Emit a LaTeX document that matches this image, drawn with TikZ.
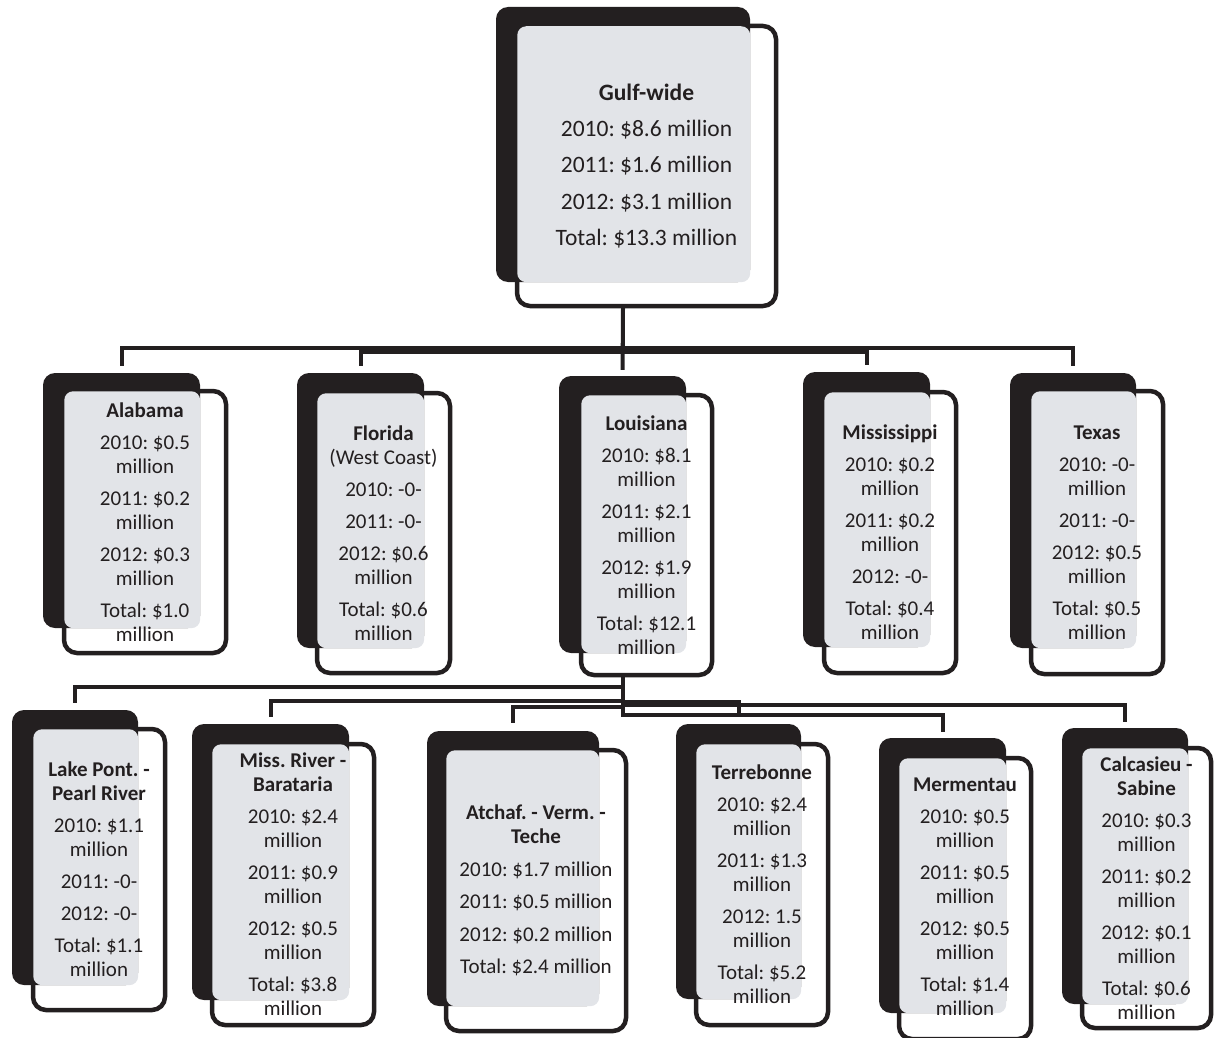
\documentclass[tikz,border=0pt]{standalone}
\usepackage{fontspec}
\setmainfont{Carlito}
\frenchspacing
\definecolor{boxblack}{RGB}{35,31,32}
\definecolor{boxgray}{RGB}{226,228,232}
\tikzset{
  backbox/.style={fill=boxblack, rounded corners=12pt, inner sep=0pt},
  frontbox/.style={draw=boxblack, fill=white, line width=4.5pt, rounded corners=13pt, inner sep=0pt},
  overlap/.style={fill=boxgray, rounded corners=9pt},
  boxtext/.style={align=center, inner sep=0pt, text=boxblack, font=\fontsize{21}{24}\selectfont},
  link/.style={draw=boxblack, line width=4pt}
}
\begin{document}
\begin{tikzpicture}[x=1pt,y=-1pt]
\useasboundingbox (0,0) rectangle (1215,1038);

% top box
\node[frontbox, minimum width=259pt, minimum height=280pt] (gulf-f) at (646.5,166) {};
\node[backbox, minimum width=254pt, minimum height=275pt] (gulf-b) at (623,144.5) {};
\fill[overlap] ([shift={(2.5pt,-2.5pt)}]gulf-f.north west) rectangle (gulf-b.south east);
\node[boxtext, font=\fontsize{23.5}{28}\selectfont] (gulf) at (gulf-f) {\textbf{Gulf-wide}\\[8.3pt]2010: \$8.6 million\\[8.3pt]2011: \$1.6 million\\[8.3pt]2012: \$3.1 million\\[8.3pt]Total: \$13.3 million};

% states
\node[frontbox, minimum width=162pt, minimum height=262pt] (ala-f) at (145,522) {};
\node[backbox, minimum width=157pt, minimum height=255pt] (ala-b) at (121.5,500.5) {};
\fill[overlap] ([shift={(2.5pt,-2.5pt)}]ala-f.north west) rectangle (ala-b.south east);
\node[boxtext] (ala) at (ala-f) {\textbf{Alabama}\\[8pt]2010: \$0.5\\million\\[8pt]2011: \$0.2\\million\\[8pt]2012: \$0.3\\million\\[8pt]Total: \$1.0\\million};

\node[frontbox, minimum width=133pt, minimum height=280pt] (fla-f) at (383.5,533) {};
\node[backbox, minimum width=127pt, minimum height=275pt] (fla-b) at (360.5,510.5) {};
\fill[overlap] ([shift={(2.5pt,-2.5pt)}]fla-f.north west) rectangle (fla-b.south east);
\node[boxtext] (fla) at (fla-f) {\textbf{Florida}\\(West Coast)\\[8pt]2010: -0-\\[8pt]2011: -0-\\[8pt]2012: \$0.6\\million\\[8pt]Total: \$0.6\\million};

\node[frontbox, minimum width=131pt, minimum height=280pt] (lou-f) at (646.5,535) {};
\node[backbox, minimum width=127pt, minimum height=277pt] (lou-b) at (622.5,514.5) {};
\fill[overlap] ([shift={(2.5pt,-2.5pt)}]lou-f.north west) rectangle (lou-b.south east);
\node[boxtext] (lou) at (lou-f) {\textbf{Louisiana}\\[8pt]2010: \$8.1\\million\\[8pt]2011: \$2.1\\million\\[8pt]2012: \$1.9\\million\\[8pt]Total: \$12.1\\million};

\node[frontbox, minimum width=132pt, minimum height=281pt] (mis-f) at (890,532.5) {};
\node[backbox, minimum width=127pt, minimum height=275pt] (mis-b) at (866.5,509.5) {};
\fill[overlap] ([shift={(2.5pt,-2.5pt)}]mis-f.north west) rectangle (mis-b.south east);
\node[boxtext] (mis) at (mis-f) {\textbf{Mississippi}\\[8pt]2010: \$0.2\\million\\[8pt]2011: \$0.2\\million\\[8pt]2012: -0-\\[8pt]Total: \$0.4\\million};

\node[frontbox, minimum width=132pt, minimum height=283pt] (tex-f) at (1097,532.5) {};
\node[backbox, minimum width=126pt, minimum height=275pt] (tex-b) at (1073,510.5) {};
\fill[overlap] ([shift={(2.5pt,-2.5pt)}]tex-f.north west) rectangle (tex-b.south east);
\node[boxtext] (tex) at (tex-f) {\textbf{Texas}\\[8pt]2010: -0-\\million\\[8pt]2011: -0-\\[8pt]2012: \$0.5\\million\\[8pt]Total: \$0.5\\million};

% basins
\node[frontbox, minimum width=132pt, minimum height=281pt] (lake-f) at (99,869.5) {};
\node[backbox, minimum width=126pt, minimum height=275pt] (lake-b) at (75,847.5) {};
\fill[overlap] ([shift={(2.5pt,-2.5pt)}]lake-f.north west) rectangle (lake-b.south east);
\node[boxtext] (lake) at (lake-f) {\textbf{Lake Pont. -}\\\textbf{Pearl River}\\[8pt]2010: \$1.1\\million\\[8pt]2011: -0-\\[8pt]2012: -0-\\[8pt]Total: \$1.1\\million};

\node[frontbox, minimum width=162pt, minimum height=281pt] (barat-f) at (293,884.5) {};
\node[backbox, minimum width=157pt, minimum height=276pt] (barat-b) at (270.5,862) {};
\fill[overlap] ([shift={(2.5pt,-2.5pt)}]barat-f.north west) rectangle (barat-b.south east);
\node[boxtext] (barat) at (barat-f) {\textbf{Miss. River -}\\\textbf{Barataria}\\[8pt]2010: \$2.4\\million\\[8pt]2011: \$0.9\\million\\[8pt]2012: \$0.5\\million\\[8pt]Total: \$3.8\\million};

\node[frontbox, minimum width=180pt, minimum height=281pt] (atch-f) at (536,890.5) {};
\node[backbox, minimum width=172pt, minimum height=275pt] (atch-b) at (513,868.5) {};
\fill[overlap] ([shift={(2.5pt,-2.5pt)}]atch-f.north west) rectangle (atch-b.south east);
\node[boxtext] (atch) at (atch-f) {\textbf{Atchaf. - Verm. -}\\\textbf{Teche}\\[8.5pt]2010: \$1.7 million\\[8.5pt]2011: \$0.5 million\\[8.5pt]2012: \$0.2 million\\[8.5pt]Total: \$2.4 million};

\node[frontbox, minimum width=132pt, minimum height=281pt] (terre-f) at (762,884.5) {};
\node[backbox, minimum width=125pt, minimum height=275pt] (terre-b) at (738.5,861.5) {};
\fill[overlap] ([shift={(2.5pt,-2.5pt)}]terre-f.north west) rectangle (terre-b.south east);
\node[boxtext] (terre) at (terre-f) {\textbf{Terrebonne}\\[8pt]2010: \$2.4\\million\\[8pt]2011: \$1.3\\million\\[8pt]2012: 1.5\\million\\[8pt]Total: \$5.2\\million};

\node[frontbox, minimum width=132pt, minimum height=281pt] (merm-f) at (965,898.5) {};
\node[backbox, minimum width=127pt, minimum height=275pt] (merm-b) at (942.5,875.5) {};
\fill[overlap] ([shift={(2.5pt,-2.5pt)}]merm-f.north west) rectangle (merm-b.south east);
\node[boxtext] (merm) at (965,897) {\textbf{Mermentau}\\[8pt]2010: \$0.5\\million\\[8pt]2011: \$0.5\\million\\[8pt]2012: \$0.5\\million\\[8pt]Total: \$1.4\\million};

\node[frontbox, minimum width=129pt, minimum height=280pt] (calc-f) at (1146.5,888) {};
\node[backbox, minimum width=126pt, minimum height=276pt] (calc-b) at (1125,866) {};
\fill[overlap] ([shift={(2.5pt,-2.5pt)}]calc-f.north west) rectangle (calc-b.south east);
\node[boxtext] (calc) at (calc-f) {\textbf{Calcasieu -}\\\textbf{Sabine}\\[8pt]2010: \$0.3\\million\\[8pt]2011: \$0.2\\million\\[8pt]2012: \$0.1\\million\\[8pt]Total: \$0.6\\million};

% connector levels
\coordinate (bus1) at (0,348);
\coordinate (bus2) at (0,352);
\coordinate (lv1) at (0,687);
\coordinate (lv2) at (0,701);
\coordinate (lv3) at (0,707);
\coordinate (lv4) at (0,702);
\coordinate (lv5) at (0,715);
\coordinate (lv6) at (0,705);

\path[link,shorten >=7pt] (gulf-b.south |- gulf-f.south) -- (gulf-b.south |- bus1) -| (ala-b.north);
\path[link,shorten >=7pt] (gulf-b.south |- gulf-f.south) -- (gulf-b.south |- bus2) -| (fla-b.north);
\path[link,shorten >=6pt] (gulf-b.south |- gulf-f.south) -- (lou-b.north);
\path[link,shorten >=7pt] (gulf-b.south |- gulf-f.south) -- (gulf-b.south |- bus2) -| (mis-b.north);
\path[link,shorten >=7pt] (gulf-b.south |- gulf-f.south) -- (gulf-b.south |- bus1) -| (tex-b.north);

\path[link,shorten >=7pt] (lou-b.south |- lou-f.south) -- (lou-b.south |- lv1) -| (lake-b.north);
\path[link,shorten >=7pt] (lou-b.south |- lou-f.south) -- (lou-b.south |- lv2) -| (barat-b.north);
\path[link,shorten >=8pt] (lou-b.south |- lou-f.south) -- (lou-b.south |- lv3) -| (atch-b.north);
\path[link,shorten >=10pt] (lou-b.south |- lou-f.south) -- (lou-b.south |- lv4) -| (terre-b.north);
\path[link,shorten >=6pt] (lou-b.south |- lou-f.south) -- (lou-b.south |- lv5) -| (merm-b.north);
\path[link,shorten >=6pt] (lou-b.south |- lou-f.south) -- (lou-b.south |- lv6) -| (calc-b.north);
\end{tikzpicture}
\end{document}
